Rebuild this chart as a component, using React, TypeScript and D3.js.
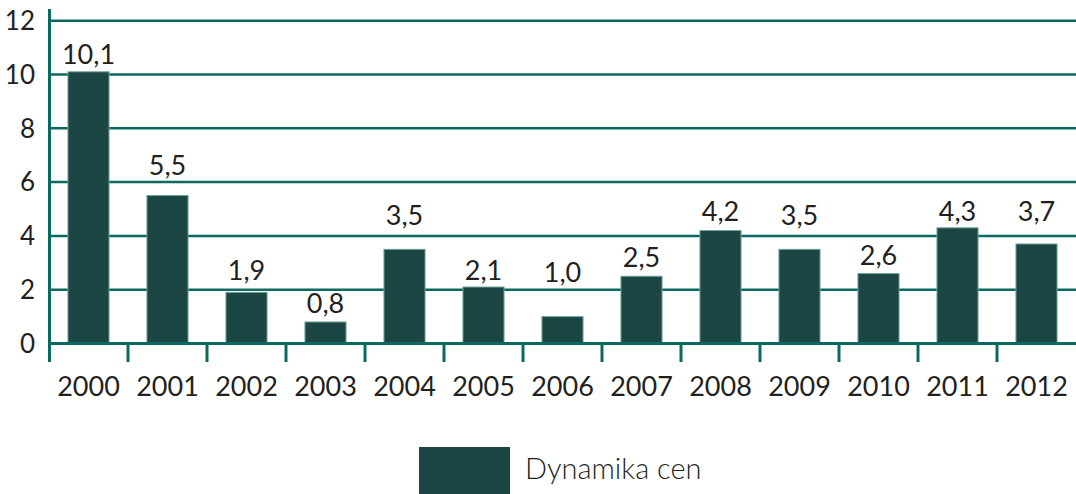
import React from "react";
import * as d3 from "d3";

const years = ["2000","2001","2002","2003","2004","2005","2006","2007","2008","2009","2010","2011","2012"];
const values = [10.1, 5.5, 1.9, 0.8, 3.5, 2.1, 1.0, 2.5, 4.2, 3.5, 2.6, 4.3, 3.7];
// label baseline positions, in data units (manually placed in the original)
const labelAt = [10.39, 6.26, 2.36, 1.12, 4.41, 2.36, 2.30, 2.86, 4.55, 4.41, 2.92, 4.55, 4.55];
const yTicks = [0, 2, 4, 6, 8, 10, 12];
const seriesName = "Dynamika cen";

const W = 1076, H = 494;
const FONT = "Lato, 'Open Sans', sans-serif";
const GRID = "#0b6a5f";
const BAR = "#1c4644";
const TXT = "#231f20";

export default function App() {
  const x = d3.scaleBand<string>().domain(years).range([49, 1076]).paddingInner(0.48).paddingOuter(0.24);
  const xEdge = d3.scaleLinear().domain([0, years.length]).range([49, 1076]);
  const y = d3.scaleLinear().domain([0, 12]).range([343.5, 20.7]);
  const fmt = (v: number) => v.toFixed(1).replace(".", ",");
  return (
    <svg width={W} height={H} style={{ position: "absolute", left: 0, top: 0, background: "#fff" }}>
      {yTicks.filter(t => t > 0).map(t => (
        <line key={t} x1={49} x2={1076} y1={y(t)} y2={y(t)} stroke={GRID} strokeWidth={2.5} />
      ))}
      {years.map((yr, i) => (
        <rect key={yr} x={x(yr)} y={y(values[i])} width={x.bandwidth()} height={y(0) - y(values[i])}
          fill={BAR} stroke="#6fa39b" strokeWidth={1} />
      ))}
      <line x1={49} x2={1076} y1={y(0)} y2={y(0)} stroke={GRID} strokeWidth={3} />
      <line x1={49.5} x2={49.5} y1={9} y2={362} stroke={GRID} strokeWidth={3} />
      {d3.range(1, years.length).map(i => (
        <line key={i} x1={xEdge(i)} x2={xEdge(i)} y1={y(0)} y2={362} stroke={GRID} strokeWidth={3} />
      ))}
      {yTicks.map(t => (
        <text key={t} x={35} y={y(t)} dy="0.36em" textAnchor="end" fontFamily={FONT} fontSize={26} fill={TXT}>{t}</text>
      ))}
      {years.map((yr) => (
        <text key={yr} x={(x(yr) as number) + x.bandwidth() / 2} y={396} textAnchor="middle" fontFamily={FONT} fontSize={27} fill={TXT}>{yr}</text>
      ))}
      {years.map((yr, i) => (
        <text key={yr} x={(x(yr) as number) + x.bandwidth() / 2} y={y(labelAt[i])} textAnchor="middle" fontFamily={FONT} fontSize={27} fill={TXT}>{fmt(values[i])}</text>
      ))}
      <rect x={419} y={447} width={91} height={50} fill={BAR} />
      <text x={525} y={479} fontFamily={FONT} fontSize={29} fontWeight={300} fill={TXT}>{seriesName}</text>
    </svg>
  );
}
